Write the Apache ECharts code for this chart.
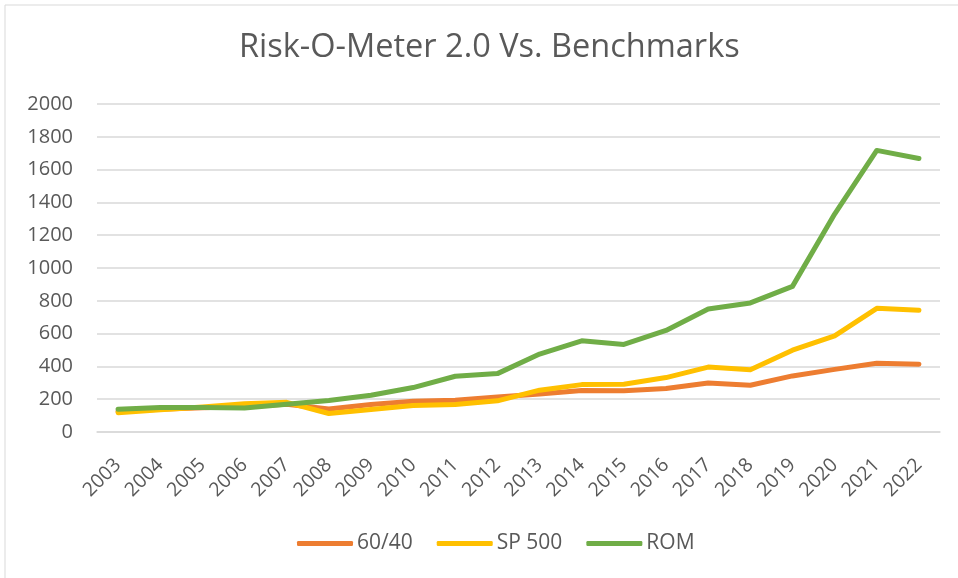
<!DOCTYPE html>
<html>
<head>
<meta charset="utf-8">
<script src="https://cdn.jsdelivr.net/npm/echarts@6/dist/echarts.min.js"></script>
<style>
  html, body { margin: 0; padding: 0; background: #fff; }
  #chart { width: 958px; height: 578px; }
</style>
</head>
<body>
<div id="chart"></div>
<script>
const years = ['2003', '2004', '2005', '2006', '2007', '2008', '2009', '2010', '2011', '2012',
  '2013', '2014', '2015', '2016', '2017', '2018', '2019', '2020', '2021', '2022'];

const sixtyForty = [125, 138, 148, 156, 169, 140, 168, 188, 194, 214,
  232, 253, 251, 265, 299, 285, 342, 382, 419, 413];
const sp500 = [118, 136, 152, 173, 181, 113, 137, 162, 168, 190,
  255, 289, 291, 332, 396, 380, 499, 586, 754, 742];
const rom = [138, 150, 150, 146, 169, 192, 224, 271, 340, 356,
  475, 556, 534, 619, 750, 787, 888, 1329, 1717, 1668];

const yTicks = { min: 0, max: 2000, step: 200 };

const font = '"Open Sans", "Liberation Sans", sans-serif';
const textColor = '#595959';

function line(name, data, color) {
  return {
    name: name,
    type: 'line',
    data: data,
    symbol: 'none',
    lineStyle: { width: 5, color: color, cap: 'round', join: 'round' },
    itemStyle: { color: color }
  };
}

const option = {
  animation: false,
  backgroundColor: '#fff',
  graphic: [{
    type: 'rect',
    shape: { x: 5, y: 5, width: 1000, height: 600 },
    style: { fill: 'none', stroke: '#d9d9d9', lineWidth: 1 },
    silent: true
  }],
  title: {
    text: 'Risk-O-Meter 2.0 Vs. Benchmarks',
    left: 234,
    top: 26,
    textStyle: { fontFamily: font, fontSize: 32.5, fontWeight: 'normal', color: textColor }
  },
  legend: {
    bottom: 19,
    left: 292,
    itemWidth: 56,
    itemHeight: 5,
    itemGap: 24,
    icon: 'roundRect',
    textStyle: { fontFamily: font, fontSize: 21, color: textColor, padding: [0, 0, 0, -1] }
  },
  grid: { left: 97, right: 18, top: 104, bottom: 146 },
  xAxis: {
    type: 'category',
    data: years,
    boundaryGap: true,
    axisLine: { show: true, lineStyle: { color: '#d9d9d9', width: 1.5 } },
    axisTick: { show: false },
    axisLabel: {
      rotate: 45, interval: 0, margin: 30,
      fontFamily: font, fontSize: 19.5, color: textColor
    }
  },
  yAxis: {
    type: 'value',
    min: yTicks.min,
    max: yTicks.max,
    interval: yTicks.step,
    axisLine: { show: false },
    axisTick: { show: false },
    splitLine: { lineStyle: { color: '#d9d9d9', width: 1.5 } },
    axisLabel: {
      margin: 24, fontFamily: font, fontSize: 20, color: textColor,
      formatter: function (v) { return String(v); }
    }
  },
  series: [
    line('60/40', sixtyForty, '#ED7D31'),
    line('SP 500', sp500, '#FFC000'),
    line('ROM', rom, '#70AD47')
  ]
};

const chart = echarts.init(document.getElementById('chart'));
chart.setOption(option);
</script>
</body>
</html>
